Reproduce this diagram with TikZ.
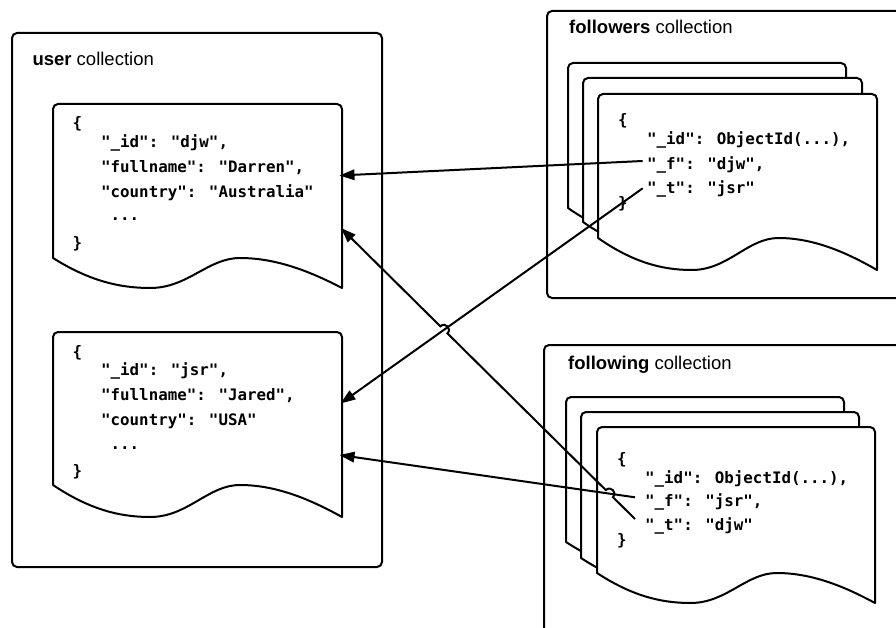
\documentclass[tikz,border=0pt]{standalone}
\usepackage{fontspec}
\setmainfont{Liberation Sans}
\newfontfamily\codefont{DejaVu Sans Mono}
\usetikzlibrary{arrows.meta,calc,intersections}

\tikzset{
  coll/.style={draw=black, line width=2pt, rounded corners=5pt, fill=white},
  docbox/.style={draw=black, line width=2pt, fill=white, line join=round},
  title/.style={anchor=base west, inner sep=0pt, font=\fontsize{18.5}{20}\selectfont},
  code/.style={anchor=base west, inner sep=0pt, font=\codefont\bfseries\fontsize{15.8}{18}\selectfont},
  link/.style={line width=2pt, -{Triangle[length=15pt,width=10.5pt]}},
}

% document sheet with a wavy lower edge: x, y (top), width, height (left side), wave depth
\newcommand\docsheet[5]{%
  \draw[docbox] ({#1},{#2+#4}) {[rounded corners=5pt] -- ({#1},{#2}) -- ({#1+#3},{#2})} -- ({#1+#3},{#2+#4+#5})
     .. controls ({#1+0.9*#3},{#2+#4+0.5*#5}) and ({#1+0.779*#3},{#2+#4}) .. ({#1+0.647*#3},{#2+#4})
     .. controls ({#1+0.536*#3},{#2+#4}) and ({#1+0.467*#3},{#2+#4+#5}) .. ({#1+0.336*#3},{#2+#4+#5})
     .. controls ({#1+0.225*#3},{#2+#4+#5}) and ({#1+0.121*#3},{#2+#4+0.733*#5}) .. ({#1},{#2+#4}) -- cycle;
}

\begin{document}
\begin{tikzpicture}[x=1pt,y=-1pt]
\useasboundingbox (0,0) rectangle (896,628);
\clip (0,0) rectangle (896,628);

% collections
\draw[coll] (12,33) rectangle (382,567);
\draw[coll] (547,11) rectangle (915,298);
\draw[coll] (544,345) rectangle (915,660);

\node[title] (tuser) at (32.3,65.7) {\textbf{user} collection};
\node[title] (tfollowers) at (569,34) {\textbf{followers} collection};
\node[title] (tfollowing) at (568,369.3) {\textbf{following} collection};

% user documents
\docsheet{53}{104}{289}{154}{30}
\docsheet{53}{332}{289}{153}{32}

\node[code] (ua) at (72.5,129) {\{};
\node[code] (ub) at (101,147.3) {"\_id": "djw",};
\node[code] (uc) at (101,172.7) {"fullname": "Darren",};
\node[code] (ud) at (101,197.7) {"country": "Australia"};
\node[code] (ue) at (110.5,221) {...};
\node[code] (uf) at (72.5,248) {\}};

\node[code] (va) at (72.5,357) {\{};
\node[code] (vb) at (101,375.3) {"\_id": "jsr",};
\node[code] (vc) at (101,400.7) {"fullname": "Jared",};
\node[code] (vd) at (101,425.7) {"country": "USA"};
\node[code] (ve) at (110.5,449) {...};
\node[code] (vf) at (72.5,476) {\}};

% followers documents
\docsheet{568}{63}{278}{145}{32}
\docsheet{583}{78}{279}{144}{32}
\docsheet{598}{94}{279}{144}{32}

\node[code] (fa) at (618,125.6) {\{};
\node[code] (fb) at (647,145) {"\_id": ObjectId(...),};
\node[code] (fF) at (647,170) {"\_f": "djw",};
\node[code] (fT) at (647,193.3) {"\_t": "jsr"};
\node[code] (fe) at (618,208.5) {\}};

% following documents
\docsheet{566}{397}{278}{145}{30}
\docsheet{581}{412}{278}{146}{30}
\docsheet{597}{427}{278}{146}{30}

\node[code] (ga) at (617,464) {\{};
\node[code] (gb) at (645,483.3) {"\_id": ObjectId(...),};
\node[code] (gF) at (645,506.7) {"\_f": "jsr",};
\node[code] (gT) at (645,530) {"\_t": "djw"};
\node[code] (ge) at (617,545) {\}};

% connector ends
\coordinate (fFend) at ($(fF.base west)+(-4.3,-9)$);
\coordinate (fTend) at ($(fT.base west)+(-4.3,-5)$);
\coordinate (gFend) at ($(gF.base west)+(-10,-9.4)$);
\coordinate (gTend) at ($(gT.base west)+(-10,-11)$);
\coordinate (u1top) at (339.5,175.5);
\coordinate (u1bot) at (341,228);
\coordinate (u2top) at (340.5,403.5);
\coordinate (u2bot) at (339.5,455);

\draw[link] (fFend) -- (u1top);
\draw[link, name path=ltwo] (fTend) -- (u2top);
\draw[link, name path=lthree] (gFend) -- (u2bot);

% the last link hops over the two links it crosses
\path[name path=lfour] (gTend) -- (u1bot);
\path[name intersections={of=lfour and ltwo, by=xa}];
\path[name intersections={of=lfour and lthree, by=xb}];
\coordinate (xb1) at ($(xb)!5pt!(gTend)$);
\coordinate (xb2) at ($(xb)!5pt!(u1bot)$);
\coordinate (xbc1) at ($(xb1)!1.333!-90:(xb)$);
\coordinate (xbc2) at ($(xb2)!1.333!90:(xb)$);
\coordinate (xa1) at ($(xa)!5pt!(gTend)$);
\coordinate (xa2) at ($(xa)!5pt!(u1bot)$);
\coordinate (xac1) at ($(xa1)!1.333!-90:(xa)$);
\coordinate (xac2) at ($(xa2)!1.333!90:(xa)$);
\draw[link] (gTend) -- (xb1) .. controls (xbc1) and (xbc2) .. (xb2)
  -- (xa1) .. controls (xac1) and (xac2) .. (xa2) -- (u1bot);
\end{tikzpicture}
\end{document}
